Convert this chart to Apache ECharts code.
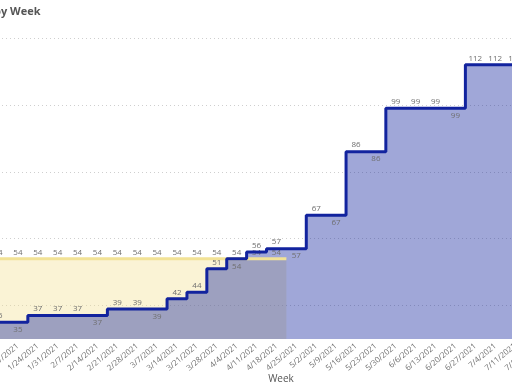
<!DOCTYPE html>
<html>
<head>
<meta charset="utf-8">
<script src="https://cdn.jsdelivr.net/npm/echarts@6/dist/echarts.min.js"></script>
<style>
html,body{margin:0;padding:0;background:#fff;}
#chart{width:512px;height:384px;}
</style>
</head>
<body>
<div id="chart"></div>
<script>
// Data
var weeks = ['1/10/2021','1/17/2021','1/24/2021','1/31/2021','2/7/2021','2/14/2021','2/21/2021','2/28/2021','3/7/2021','3/14/2021','3/21/2021','3/28/2021','4/4/2021','4/11/2021','4/18/2021','4/25/2021','5/2/2021','5/9/2021','5/16/2021','5/23/2021','5/30/2021','6/6/2021','6/13/2021','6/20/2021','6/27/2021','7/4/2021','7/11/2021','7/18/2021'];
var actual = [35,35,37,37,37,37,39,39,39,42,44,51,54,56,57,57,67,67,86,86,99,99,99,99,112,112,112,null];
var baseline = [54,54,54,54,54,54,54,54,54,54,54,54,54,54,54,null,null,null,null,null,null,null,null,null,null,null,null,null];
// indices of actual-series labels drawn under the line
var belowIdx = [1,5,8,12,15,17,19,23];

var FONT = "'Segoe UI','Open Sans','Noto Sans',sans-serif";
var BLUE = '#12239E';
var YEL = '#F2E296';

var actualLabeled = actual.map(function(v,i){
  if (v === null) return null;
  var below = belowIdx.indexOf(i) >= 0;
  return {value: v, label: {position: below ? 'bottom' : 'top', distance: below ? 3 : 2}};
});

var chart = echarts.init(document.getElementById('chart'));
chart.setOption({
  animation: false,
  title: [
    {text: 'by Week', left: -11, top: 1, textStyle: {fontFamily: FONT, fontSize: 11, fontWeight: 'bold', color: '#555'}},
    {text: 'Week', left: 276, top: 369, textAlign: 'center', textStyle: {fontFamily: FONT, fontSize: 10, fontWeight: 'normal', color: '#555'}}
  ],
  grid: {left: -2, right: -23, top: 38, bottom: 45, containLabel: false, outerBoundsMode: 'none'},
  xAxis: {
    type: 'category', data: weeks, boundaryGap: false,
    axisLine: {show: false}, axisTick: {show: false},
    axisLabel: {rotate: 40, fontSize: 8, color: '#6f6f6f', fontFamily: FONT, margin: 6, interval: 0, hideOverlap: false}
  },
  yAxis: {
    type: 'value', min: 30, max: 120, interval: 10,
    axisLabel: {show: false}, axisLine: {show: false}, axisTick: {show: false},
    splitLine: {show: true, lineStyle: {color: ['rgba(0,0,0,0)', '#cfcfcf'], type: [1,3], width: 1}}
  },
  series: [
    {type: 'line', data: baseline, step: 'middle', showSymbol: false, z: 1,
     lineStyle: {width: 0}, areaStyle: {color: YEL, opacity: 0.4}},
    {type: 'line', data: actual, step: 'middle', showSymbol: false, z: 2,
     lineStyle: {width: 0}, areaStyle: {color: BLUE, opacity: 0.4}},
    {type: 'line', data: baseline, step: 'middle', showSymbol: true, symbol: 'circle', symbolSize: 1, z: 3,
     itemStyle: {color: 'rgba(0,0,0,0)', borderWidth: 0},
     lineStyle: {width: 3, color: YEL},
     labelLayout: {hideOverlap: false},
     label: {show: true, position: 'top', distance: 2, fontSize: 8, color: '#6f6f6f', fontFamily: FONT}},
    {type: 'line', data: actualLabeled, step: 'middle', showSymbol: true, symbol: 'circle', symbolSize: 1, z: 4,
     itemStyle: {color: 'rgba(0,0,0,0)', borderWidth: 0},
     lineStyle: {width: 3, color: BLUE},
     labelLayout: {hideOverlap: false},
     label: {show: true, fontSize: 8, color: '#6f6f6f', fontFamily: FONT}}
  ]
});
</script>
</body>
</html>
